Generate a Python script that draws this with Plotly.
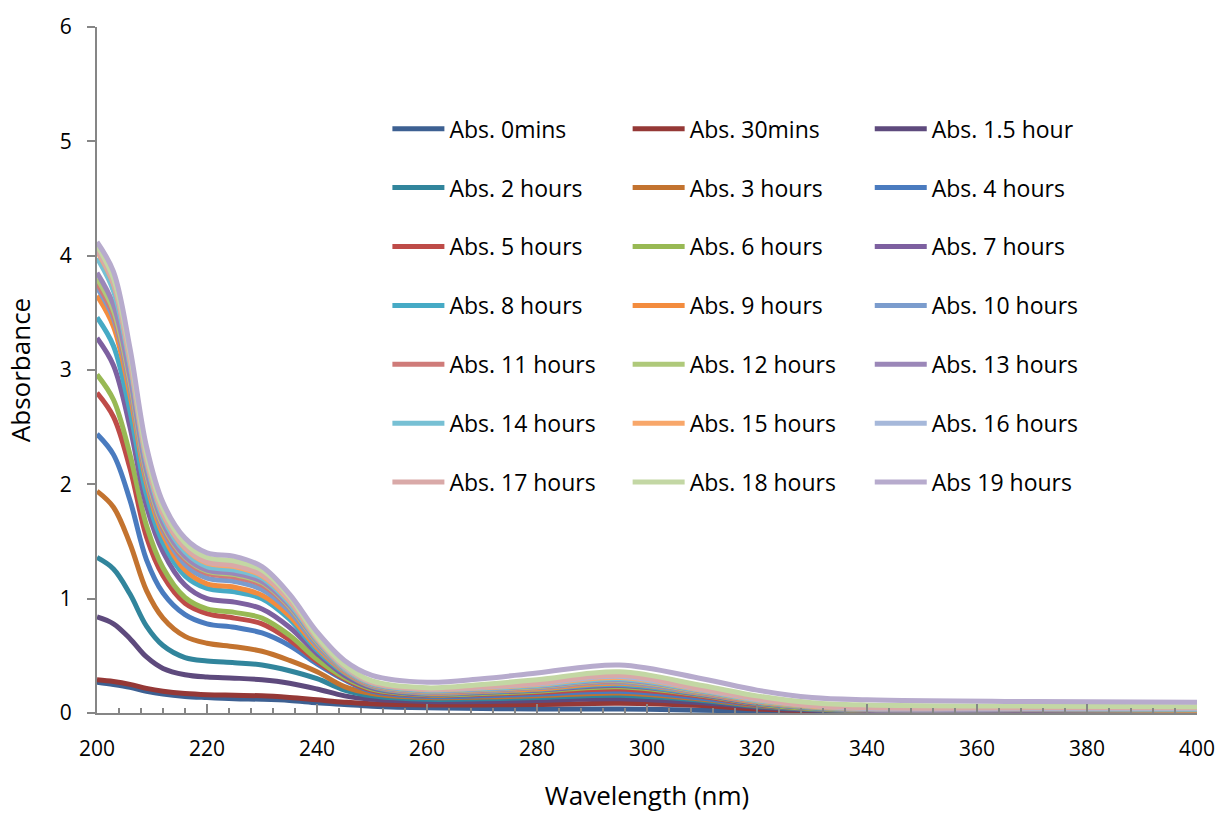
import plotly.graph_objects as go

wavelength = [200, 203, 206, 209, 212, 216, 220, 225, 230, 235, 240, 245, 250,
              260, 270, 280, 295, 310, 320, 330, 340, 370, 400]

series_names = ["Abs. 0mins", "Abs. 30mins", "Abs. 1.5 hour", "Abs. 2 hours", "Abs. 3 hours",
                "Abs. 4 hours", "Abs. 5 hours", "Abs. 6 hours", "Abs. 7 hours", "Abs. 8 hours",
                "Abs. 9 hours", "Abs. 10 hours", "Abs. 11 hours", "Abs. 12 hours", "Abs. 13 hours",
                "Abs. 14 hours", "Abs. 15 hours", "Abs. 16 hours", "Abs. 17 hours", "Abs. 18 hours",
                "Abs 19 hours"]

series_colors = ["#3D6092", "#953836", "#5E4A7D", "#31859C", "#C3732F",
                 "#4A7BBF", "#BE4B48", "#98B954", "#7D60A0", "#46AAC5",
                 "#F38C3E", "#7B9CCD", "#CF7B79", "#AFC97A", "#9B87B8",
                 "#77C0D4", "#F8A76A", "#A6B8DA", "#D9A9A8", "#C3D7A4",
                 "#B7ABCD"]

abs_0min = [.27, .25, .225, .19, .165, .145, .135, .125, .12, .11, .09, .075, .06, .045, .04, .035, .035, .025, .015, .01, .005, .005, .005]
abs_30min = [.29, .275, .25, .215, .19, .17, .16, .155, .15, .135, .115, .095, .08, .07, .07, .075, .085, .065, .035, .02, .01, .01, .01]
abs_1_5h = [.84, .78, .65, .49, .39, .335, .315, .305, .29, .26, .21, .15, .12, .10, .10, .11, .125, .09, .05, .025, .015, .015, .01]
abs_2h = [1.36, 1.26, 1.04, .76, .59, .485, .455, .44, .42, .37, .30, .20, .15, .12, .125, .135, .155, .11, .06, .03, .02, .02, .015]
abs_3h = [1.94, 1.80, 1.48, 1.07, .83, .67, .61, .58, .54, .46, .36, .23, .17, .135, .14, .15, .175, .12, .065, .035, .02, .02, .015]
abs_4h = [2.44, 2.26, 1.86, 1.34, 1.05, .86, .78, .75, .70, .59, .43, .29, .19, .145, .15, .165, .19, .13, .07, .035, .02, .02, .02]
abs_5h = [2.80, 2.59, 2.14, 1.54, 1.20, .96, .87, .83, .78, .64, .45, .30, .20, .155, .165, .18, .21, .145, .075, .04, .025, .025, .02]
abs_6h = [2.96, 2.74, 2.26, 1.64, 1.27, 1.01, .91, .88, .83, .68, .47, .31, .21, .16, .17, .19, .23, .155, .08, .04, .025, .025, .02]
abs_7h = [3.28, 3.04, 2.50, 1.81, 1.41, 1.12, 1.00, .97, .91, .75, .52, .33, .22, .165, .18, .20, .24, .16, .085, .045, .025, .025, .025]
abs_8h = [3.46, 3.21, 2.64, 1.91, 1.49, 1.20, 1.09, 1.06, 1.00, .82, .55, .35, .23, .17, .185, .205, .25, .165, .09, .045, .03, .03, .025]
abs_9h = [3.65, 3.38, 2.78, 2.01, 1.56, 1.25, 1.13, 1.10, 1.03, .85, .57, .36, .235, .175, .19, .21, .26, .17, .095, .05, .03, .03, .025]
abs_10h = [3.72, 3.45, 2.84, 2.05, 1.60, 1.30, 1.18, 1.15, 1.08, .89, .59, .37, .24, .18, .195, .22, .27, .175, .10, .05, .03, .03, .03]
abs_11h = [3.76, 3.48, 2.87, 2.07, 1.62, 1.34, 1.22, 1.19, 1.12, .92, .61, .375, .245, .185, .20, .225, .28, .18, .10, .055, .035, .035, .03]
abs_12h = [3.80, 3.52, 2.90, 2.09, 1.64, 1.36, 1.24, 1.21, 1.14, .93, .62, .38, .25, .19, .205, .23, .285, .185, .105, .055, .035, .035, .03]
abs_13h = [3.85, 3.57, 2.94, 2.12, 1.66, 1.37, 1.25, 1.22, 1.15, .94, .63, .385, .255, .195, .21, .235, .29, .19, .11, .06, .035, .035, .035]
abs_14h = [3.98, 3.69, 3.04, 2.19, 1.71, 1.41, 1.28, 1.25, 1.18, .96, .64, .39, .26, .20, .215, .24, .30, .195, .11, .06, .04, .04, .035]
abs_15h = [4.04, 3.75, 3.08, 2.22, 1.74, 1.44, 1.31, 1.28, 1.20, .98, .65, .40, .265, .205, .22, .25, .31, .20, .115, .06, .04, .04, .04]
abs_16h = [4.06, 3.77, 3.10, 2.24, 1.76, 1.46, 1.33, 1.30, 1.22, 1.00, .66, .405, .27, .21, .225, .255, .32, .205, .12, .065, .04, .04, .04]
abs_17h = [4.05, 3.76, 3.09, 2.23, 1.75, 1.45, 1.32, 1.29, 1.21, .99, .66, .41, .27, .21, .23, .26, .33, .21, .125, .065, .045, .045, .045]
abs_18h = [4.09, 3.80, 3.15, 2.27, 1.79, 1.49, 1.36, 1.33, 1.25, 1.02, .67, .42, .28, .22, .25, .29, .36, .24, .15, .09, .07, .06, .055]
abs_19h = [4.12, 3.86, 3.19, 2.33, 1.84, 1.53, 1.40, 1.37, 1.28, 1.04, .71, .46, .33, .27, .30, .35, .42, .30, .20, .135, .115, .10, .095]

series_values = [abs_0min, abs_30min, abs_1_5h, abs_2h, abs_3h, abs_4h, abs_5h, abs_6h,
                 abs_7h, abs_8h, abs_9h, abs_10h, abs_11h, abs_12h, abs_13h, abs_14h,
                 abs_15h, abs_16h, abs_17h, abs_18h, abs_19h]

x_ticks = [200, 220, 240, 260, 280, 300, 320, 340, 360, 380, 400]
y_ticks = [0, 1, 2, 3, 4, 5, 6]

FONT = "Open Sans"
fig = go.Figure()
legend_ids = ["legend", "legend2", "legend3"]
for i, (name, vals, col) in enumerate(zip(series_names, series_values, series_colors)):
    fig.add_trace(go.Scatter(
        x=wavelength, y=vals, name=name, mode="lines",
        line=dict(color=col, width=5, shape="spline", smoothing=1.0),
        legend=legend_ids[i % 3], legendgroup=name,
    ))

leg_common = dict(font=dict(family=FONT, size=23, color="#000000"),
                  bgcolor="rgba(0,0,0,0)", borderwidth=0, tracegroupgap=26,
                  itemwidth=52, yanchor="top", xanchor="left", y=0.883)
fig.update_layout(
    width=1221, height=813,
    margin=dict(l=97, r=24, t=27, b=100, autoexpand=False),
    paper_bgcolor="white", plot_bgcolor="white",
    font=dict(family=FONT, color="#000000"),
    legend=dict(**leg_common, x=0.264),
    legend2=dict(**leg_common, x=0.4824),
    legend3=dict(**leg_common, x=0.7025),
    showlegend=True,
)
fig.update_xaxes(
    range=[200, 400], tickvals=x_ticks, ticks="inside", ticklen=9, tickwidth=2,
    tickcolor="#868686", showline=True, linecolor="#868686", linewidth=2,
    showgrid=False, zeroline=False, tickfont=dict(family=FONT, size=21, color="#000000"),
    ticklabelstandoff=16, automargin=False,
    minor=dict(dtick=4, tick0=200, ticks="inside", ticklen=5, tickwidth=1.5, tickcolor="#868686", showgrid=False),
    title=dict(text="Wavelength (nm)", font=dict(family=FONT, size=26, color="#000000"), standoff=30),
)
fig.update_yaxes(
    range=[0, 6], tickvals=y_ticks, ticks="outside", ticklen=8, tickwidth=2,
    tickcolor="#868686", showline=True, linecolor="#868686", linewidth=2,
    showgrid=False, zeroline=False, tickfont=dict(family=FONT, size=21, color="#000000"),
    ticklabelstandoff=11, automargin=False,
    title=dict(text="Absorbance", font=dict(family=FONT, size=26, color="#000000"), standoff=22),
)
fig.write_html("out.html", config={"displayModeBar": False},
               post_script="document.body.style.margin='0px';document.body.style.overflow='hidden';")
